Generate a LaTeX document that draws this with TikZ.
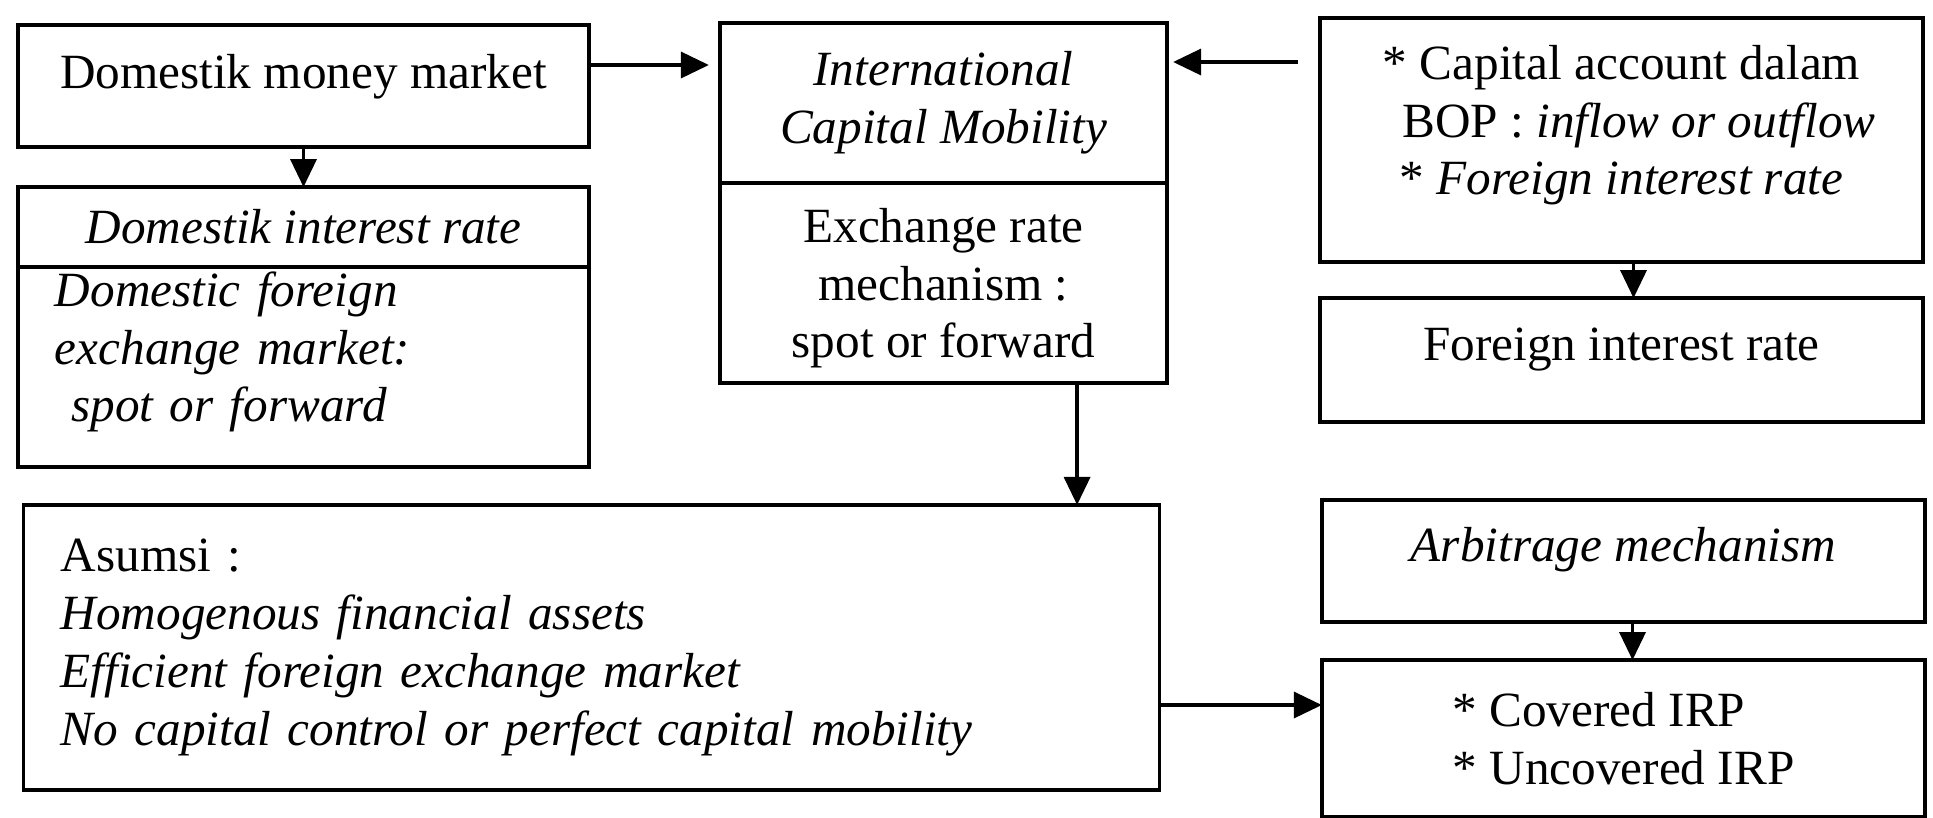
\documentclass[tikz,border=0pt]{standalone}
\usepackage{fontspec}
\setmainfont{Liberation Serif}
\usetikzlibrary{arrows.meta,positioning}

\begin{document}
\begin{tikzpicture}[
  x=0.01cm, y=-0.01cm,
  b/.style={draw,line width=1pt,align=center,inner sep=0pt,outer sep=0pt,font=\fontsize{14}{16.4}\selectfont},
  bi/.style={b,font=\fontsize{14}{16.4}\selectfont\itshape},
  arrow/.style={-{Triangle[length=0.28cm,width=0.26cm]},line width=1pt}
]
  \useasboundingbox (0,0) rectangle (1933,817);

  % domestic side
  \node[b,minimum width=5.71cm,minimum height=1.22cm,text depth=0.29cm] (money) at (303.5,86) {Domestik money market};
  \node[bi,minimum width=5.71cm,minimum height=0.80cm,below=0.4cm of money] (domrate) {Domestik interest rate};
  \node[bi,align=left,inner xsep=0.37cm,text width=4.97cm,minimum height=2.0cm,text depth=1.56cm,below=0pt of domrate] (domfx) {Domestic foreign\\exchange market:\\~spot or forward};

  % capital mobility
  \node[bi,minimum width=4.47cm,minimum height=1.60cm] (icm) at (943.5,103) {International\\Capital Mobility};
  \node[b,minimum width=4.47cm,minimum height=2.0cm,text depth=0pt,below=0pt of icm] (exmech) {Exchange rate\\mechanism :\\spot or forward};

  % foreign side
  \node[b,minimum width=6.03cm,minimum height=2.44cm,text depth=0.40cm] (capacct) at (1621.5,140) {* Capital account dalam\\\hspace*{0.35cm}BOP : \textit{inflow or outflow}\\* \textit{Foreign interest rate}};
  \node[b,minimum width=6.03cm,minimum height=1.24cm,text depth=0.31cm,below=0.36cm of capacct] (forrate) {Foreign interest rate};

  % assumptions and parity
  \node[bi,align=left,inner xsep=0.37cm,text width=10.61cm,minimum height=2.85cm] (asumsi) at (591.5,647.5) {\textup{Asumsi :}\\Homogenous financial assets\\Efficient foreign exchange market\\No capital control or perfect capital mobility};
  \node[bi,minimum width=6.03cm,minimum height=1.22cm,text depth=0.33cm] (arb) at (1623.5,561) {Arbitrage mechanism};
  \node[b,align=left,minimum width=6.03cm,minimum height=1.57cm,below=0.38cm of arb] (irp) {* Covered IRP\\* Uncovered IRP};

  \draw[arrow] (money) -- (domrate);
  \draw[arrow,shorten >=0.11cm] ([yshift=0.21cm]money.east) -- ([yshift=0.21cm]money.east -| icm.west);
  \draw[arrow,shorten <=0.22cm,shorten >=0.06cm] (capacct.west |- 0,62) -- (icm.east |- 0,62);
  \draw[arrow] ([xshift=0.12cm]capacct.south) -- ([xshift=0.12cm]forrate.north);
  \draw[arrow] ([xshift=1.335cm]exmech.south) -- ([xshift=1.335cm]exmech.south |- asumsi.north);
  \draw[arrow] ([xshift=0.09cm]arb.south) -- ([xshift=0.09cm]irp.north);
  \draw[arrow] (asumsi.east |- 0,705) -- (irp.west |- 0,705);
\end{tikzpicture}
\end{document}
